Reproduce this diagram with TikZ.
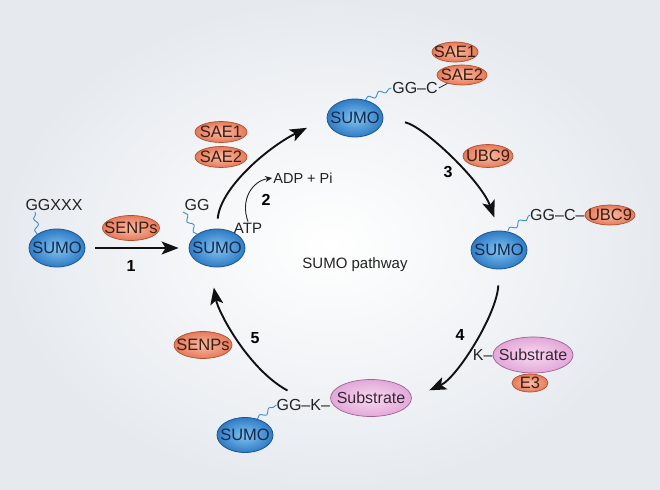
\documentclass[tikz,border=0pt]{standalone}
\usepackage{fontspec}
\setmainfont{Liberation Sans}
\usetikzlibrary{arrows.meta,decorations.pathmorphing,shapes.geometric}
\newcommand{\mkz}[1]{\makebox[0pt]{#1}}
\definecolor{sumoin}{HTML}{84C3EF}
\definecolor{sumoout}{HTML}{2E7CC6}
\definecolor{sumoedge}{HTML}{21558F}
\definecolor{sumotext}{HTML}{132A4C}
\definecolor{enzin}{HTML}{F8BCA4}
\definecolor{enzout}{HTML}{E6795A}
\definecolor{enzedge}{HTML}{B0502F}
\definecolor{enztext}{HTML}{3A1E14}
\definecolor{subin}{HTML}{F8DAF1}
\definecolor{subout}{HTML}{E2A8D8}
\definecolor{subedge}{HTML}{A0628F}
\definecolor{subtext}{HTML}{3A2438}
\definecolor{bgout}{HTML}{E6EAEF}
\definecolor{arrowc}{HTML}{111111}
\definecolor{linkc}{HTML}{3E8ED0}
\definecolor{labeltext}{HTML}{222222}
\begin{document}
\begin{tikzpicture}[x=1pt,y=-1pt,
  sumo/.style={ellipse, draw=sumoedge, line width=0.8pt, inner color=sumoin, outer color=sumoout,
    minimum width=56pt, minimum height=38pt, inner sep=0pt, text=sumotext, font=\fontsize{16.5}{17}\selectfont},
  enz/.style={ellipse, draw=enzedge, line width=0.7pt, inner color=enzin, outer color=enzout,
    inner sep=0pt, text=enztext, font=\fontsize{16.5}{17}\selectfont},
  subs/.style={ellipse, draw=subedge, line width=0.7pt, inner color=subin, outer color=subout,
    inner sep=0pt, text=subtext, minimum width=80pt, minimum height=36pt, font=\fontsize{16}{17}\selectfont},
  lbl/.style={inner sep=1pt, text=labeltext, font=\fontsize{16}{17}\selectfont},
  num/.style={inner sep=1pt, text=black, font=\bfseries\fontsize{16}{17}\selectfont},
  bigarrow/.style={draw=arrowc, line width=1.9pt, -{Stealth[length=17pt,width=13pt,inset=4pt]}},
  smallarrow/.style={draw=labeltext, line width=0.9pt, -{Stealth[length=7pt,width=6pt]}},
  linker/.style={draw=linkc, line width=0.9pt, decorate, decoration={snake, amplitude=2.2pt, segment length=12pt}},
  tie/.style={draw=labeltext, line width=0.8pt}
]
\useasboundingbox (0,0) rectangle (660,489);
\shade[inner color=white, outer color=bgout] (0,0) rectangle (660,489);

% step 1
\node[sumo] (s1) at (57,248) {\mkz{SUMO}};
\node[lbl] (ggx) at (54,205) {GGXXX};
\node[enz, minimum width=57pt, minimum height=25pt] (senp1) at (131,228) {\mkz{SENPs}};
\node[num] (n1) at (131,266) {1};

% SUMO with GG
\node[sumo] (s2) at (217,248) {\mkz{SUMO}};
\node[lbl] (gg) at (197,205) {GG};
\node[lbl, font=\fontsize{15}{16}\selectfont] (atp) at (248,228) {ATP};
\node[lbl, font=\fontsize{14.5}{15}\selectfont] (adp) at (303,178) {ADP + Pi};
\node[num] (n2) at (266,200) {2};
\node[enz, minimum width=52pt, minimum height=21pt] (sae1a) at (221,132) {\mkz{SAE1}};
\node[enz, minimum width=52pt, minimum height=21pt] (sae2a) at (221,157) {\mkz{SAE2}};

% SUMO~SAE
\node[sumo] (s3) at (355,118) {\mkz{SUMO}};
\node[lbl] (gc) at (415,88) {GG–C};
\node[enz, minimum width=46pt, minimum height=20pt] (sae1b) at (455,52) {\mkz{SAE1}};
\node[enz, minimum width=50pt, minimum height=20pt] (sae2b) at (462,75) {\mkz{SAE2}};
\node[enz, minimum width=50pt, minimum height=23pt] (ubc9a) at (488,156) {\mkz{UBC9}};
\node[num] (n3) at (448,172) {3};

% SUMO~UBC9
\node[sumo] (s4) at (499,250) {\mkz{SUMO}};
\node[enz, minimum width=50pt, minimum height=20pt] (ubc9b) at (610,215) {\mkz{UBC9}};
\node[lbl, anchor=east, inner sep=0pt] (gcu) at (ubc9b.west) {GG–C–};
\node[num] (n4) at (460,335) {4};
\node[enz, minimum width=36pt, minimum height=18pt] (e3) at (530,383) {\mkz{E3}};
\node[subs] (sub1) at (533,355) {\mkz{Substrate}};
\node[lbl, anchor=east, inner sep=0pt] (kk) at (sub1.west) {K–};

% SUMO-substrate
\node[sumo, minimum height=35pt] (s5) at (245,435) {\mkz{SUMO}};
\node[subs, minimum width=81pt, minimum height=37pt] (sub2) at (371,398) {\mkz{Substrate}};
\node[lbl, anchor=east, inner sep=0pt] (gk) at ([yshift=-7pt]sub2.west) {GG–K–};
\node[enz, minimum width=58pt, minimum height=27pt] (senp2) at (203,345) {\mkz{SENPs}};
\node[num] (n5) at (255,338) {5};

\node[lbl, font=\fontsize{15}{16}\selectfont] (title) at (355,265) {SUMO pathway};

% linkers
\draw[linker] (s1.145) -- (ggx.200);
\draw[linker] (s2.145) -- (gg.south west);
\draw[linker] (s3.60) -- (gc.west);
\draw[linker] (s4.65) -- (gcu.west);
\draw[linker] (s5.52) -- (gk.west);
\draw[tie] (gc.east) -- (sae2b.210);

% arrows
\draw[bigarrow, shorten <=10pt, shorten >=10pt] (s1.east) -- (s2.west);
\draw[bigarrow, shorten <=10pt, shorten >=22pt] (s2.north) .. controls +(3,-40) and +(-60,30) .. (s3.west);
\draw[bigarrow, shorten <=22pt, shorten >=14pt] (s3.east) .. controls +(40,8) and +(-18,-50) .. (s4.north);
\draw[bigarrow, shorten <=16pt, shorten >=19pt] (s4.south) .. controls +(-2,45) and +(45,-20) .. (sub2.east);
\draw[bigarrow, shorten <=18pt, shorten >=21pt] (gk.north) .. controls +(-55,-30) and +(8,45) .. (s2.250);
\draw[smallarrow] (atp.north) .. controls +(-8,-22) and +(-20,3) .. (adp.west);
\end{tikzpicture}
\end{document}
